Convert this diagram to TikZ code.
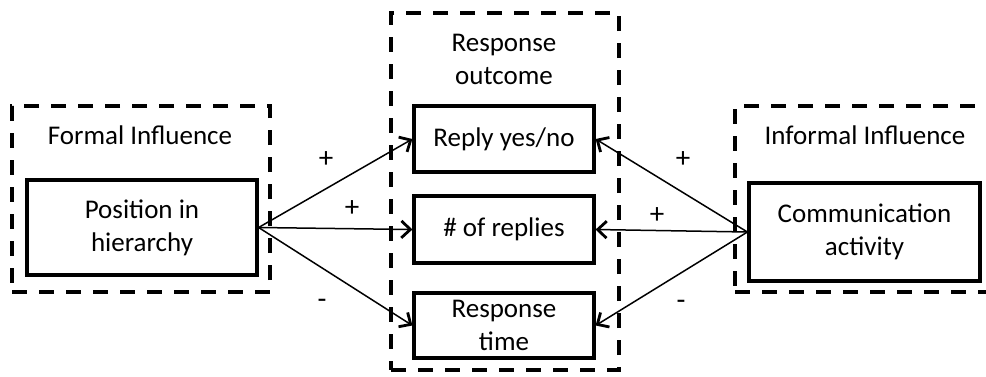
\documentclass[tikz,border=0pt]{standalone}
\usepackage{fontspec}
\setmainfont{Carlito}
\usetikzlibrary{arrows.meta}
\tikzset{
  txt/.style={font=\fontsize{27}{33}\selectfont, align=center, inner sep=0pt},
  dbox/.style={draw, line width=4pt, dash pattern=on 15pt off 12pt, inner sep=0pt},
  sbox/.style={draw, line width=3.2pt, inner sep=0pt, fill=white, font=\fontsize{27}{33}\selectfont, align=center},
  arr/.style={line width=1.5pt, -{Straight Barb[length=9pt,width=17pt,line width=2.8pt]}},
  sign/.style={font=\fontsize{29}{33}\selectfont, inner sep=0pt}
}
\begin{document}
\begin{tikzpicture}[x=1pt,y=-1pt]
\useasboundingbox (0,0) rectangle (986,376);
% dashed group boxes
\node[dbox, minimum width=258pt, minimum height=186pt] (gl) at (141,199) {};
\node[dbox, minimum width=228pt, minimum height=357pt] (gm) at (505,191.5) {};
\node[dbox, minimum width=270pt, minimum height=186pt] (gr) at (870,199) {};
% group titles
\node[txt] (tl) at (140,135) {Formal Influence};
\node[txt] (tm) at (504,59.5) {Response\\outcome};
\node[txt] (tr) at (865,135) {Informal Influence};
% solid boxes
\node[sbox, minimum width=230pt, minimum height=95pt] (pos) at (142,227.5) {Position in\\hierarchy};
\node[sbox, minimum width=180pt, minimum height=66pt] (rep) at (504,139) {Reply yes/no};
\node[sbox, minimum width=180pt, minimum height=67pt] (num) at (504,229.5) {\# of replies};
\node[sbox, minimum width=180pt, minimum height=65pt] (rt) at (504,325.5) {Response\\time};
\node[sbox, minimum width=231pt, minimum height=98pt] (com) at (864.5,232) {Communication\\activity};
% arrows
\draw[arr] (pos.east) -- (rep.west);
\draw[arr] (pos.east) -- (num.west);
\draw[arr] (pos.east) -- (rt.west);
\draw[arr] (com.west) -- (rep.east);
\draw[arr] (com.west) -- (num.east);
\draw[arr] (com.west) -- (rt.east);
% signs
\node[sign] (s1) at (326,160) {+};
\node[sign] (s2) at (352,209) {+};
\node[sign] (s3) at (322,304) {-};
\node[sign] (s4) at (683,160) {+};
\node[sign] (s5) at (657,216) {+};
\node[sign] (s6) at (681,305) {-};
\end{tikzpicture}
\end{document}
